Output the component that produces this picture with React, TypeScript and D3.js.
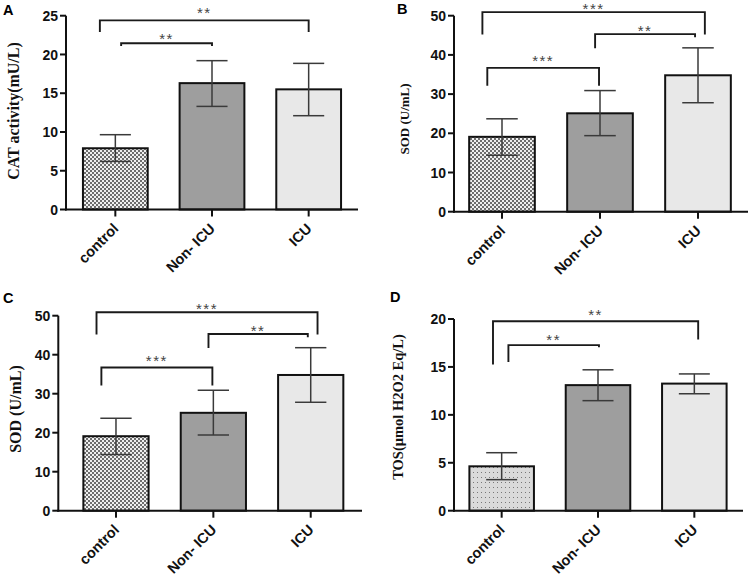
import React from 'react';
import * as d3 from 'd3';

const categories = ['control', 'Non- ICU', 'ICU'];

const catMean = [7.9, 16.3, 15.5];
const catErrHigh = [9.65, 19.2, 18.85];
const catErrLow = [6.2, 13.3, 12.1];
const catTicks = [0, 5, 10, 15, 20, 25];

const sodMean = [19.1, 25.1, 34.8];
const sodErrHigh = [23.7, 30.9, 41.8];
const sodErrLow = [14.4, 19.4, 27.8];
const sodTicks = [0, 10, 20, 30, 40, 50];

const tosMean = [4.63, 13.1, 13.26];
const tosErrHigh = [6.05, 14.7, 14.27];
const tosErrLow = [3.24, 11.48, 12.2];
const tosTicks = [0, 5, 10, 15, 20];

// significance brackets: positions in category units, heights in data units
const catBrackets = [
  { from: -0.16, to: 2.0, level: 24.4, leftEnd: 22.9, rightEnd: 22.9, labelAt: 25.8, label: '**' },
  { from: 0.06, to: 1.0, level: 21.45, leftEnd: 21.1, rightEnd: 21.1, labelAt: 22.5, label: '**' },
];
const sodBrackets = [
  { from: -0.2, to: 2.07, level: 50.9, leftEnd: 45.2, rightEnd: 45.2, labelAt: 52.6, label: '***' },
  { from: 0.95, to: 1.97, level: 45.3, leftEnd: 41.7, rightEnd: 44.5, labelAt: 46.9, label: '**' },
  { from: -0.15, to: 0.99, level: 36.7, leftEnd: 32.1, rightEnd: 32.1, labelAt: 39.4, label: '***' },
];
const tosBrackets = [
  { from: -0.09, to: 2.04, level: 19.77, leftEnd: 15.24, rightEnd: 17.85, labelAt: 20.74, label: '**' },
  { from: 0.07, to: 1.01, level: 17.27, leftEnd: 15.52, rightEnd: 17.06, labelAt: 18.2, label: '**' },
];

const fills = ['url(#checker)', '#9e9e9e', '#e8e8e8'];
const fillsD = ['url(#dots)', '#9e9e9e', '#e8e8e8'];

type Panel = {
  letter: string;
  lx: number; ly: number;
  axisX0: number; axisX1: number;
  bandX0: number; bandX1: number;
  yBottom: number; yTop: number;
  ticks: number[];
  mean: number[]; hi: number[]; lo: number[];
  brackets: typeof catBrackets;
  ylabel: string; ylx: number; yly: number; ylSize: number;
  fills: string[];
};

const panels: Panel[] = [
  {
    letter: 'A', lx: 3, ly: 15,
    axisX0: 66, axisX1: 358, bandX0: 67, bandX1: 357,
    yBottom: 209.5, yTop: 15.7, ticks: catTicks,
    mean: catMean, hi: catErrHigh, lo: catErrLow, brackets: catBrackets,
    ylabel: 'CAT activity(mU/L)', ylx: 13, yly: 111, ylSize: 16, fills,
  },
  {
    letter: 'B', lx: 397, ly: 14,
    axisX0: 454, axisX1: 748, bandX0: 453, bandX1: 747,
    yBottom: 211.7, yTop: 15.7, ticks: sodTicks,
    mean: sodMean, hi: sodErrHigh, lo: sodErrLow, brackets: sodBrackets,
    ylabel: 'SOD (U/mL)', ylx: 404, yly: 119, ylSize: 13, fills,
  },
  {
    letter: 'C', lx: 3, ly: 303,
    axisX0: 58.3, axisX1: 362, bandX0: 67.3, bandX1: 359.4,
    yBottom: 510.7, yTop: 315.7, ticks: sodTicks,
    mean: sodMean, hi: sodErrHigh, lo: sodErrLow, brackets: sodBrackets,
    ylabel: 'SOD (U/mL)', ylx: 15, yly: 409, ylSize: 16, fills,
  },
  {
    letter: 'D', lx: 390, ly: 302,
    axisX0: 454, axisX1: 743, bandX0: 453.5, bandX1: 742.5,
    yBottom: 510.7, yTop: 319, ticks: tosTicks,
    mean: tosMean, hi: tosErrHigh, lo: tosErrLow, brackets: tosBrackets,
    ylabel: 'TOS(\u03bcmol H2O2 Eq/L)', ylx: 398, yly: 407, ylSize: 14.5, fills: fillsD,
  },
];

const sans = '"Liberation Sans", Arial, Helvetica, sans-serif';
const serif = '"Liberation Serif", "Times New Roman", serif';

function PanelView({ p }: { p: Panel }) {
  const x = d3.scalePoint<string>().domain(categories).range([p.bandX0, p.bandX1]).padding(0.5);
  const step = x.step();
  const bw = step * 0.67;
  const cap = bw * 0.48;
  const maxTick = p.ticks[p.ticks.length - 1];
  const y = d3.scaleLinear().domain([0, maxTick]).range([p.yBottom, p.yTop]);
  const bx = d3.scaleLinear().domain([0, 2]).range([x(categories[0])!, x(categories[2])!]);
  return (
    <g>
      <text x={p.lx} y={p.ly} fontFamily={sans} fontWeight="bold" fontSize={14.5} fill="#000">{p.letter}</text>
      <text
        transform={`translate(${p.ylx},${p.yly}) rotate(-90)`}
        textAnchor="middle" dy="0.35em"
        fontFamily={serif} fontWeight="bold" fontSize={p.ylSize} fill="#111"
      >{p.ylabel}</text>
      {categories.map((c, i) => (
        <rect key={c} x={x(c)! - bw / 2} y={y(p.mean[i])} width={bw} height={y(0) - y(p.mean[i])}
          fill={p.fills[i]} stroke="#111" strokeWidth={2} />
      ))}
      {categories.map((c, i) => {
        const cx = x(c)!;
        return (
          <g key={c} stroke="#3a3a3a" strokeWidth={1.5}>
            <line x1={cx} x2={cx} y1={y(p.hi[i])} y2={y(p.lo[i])} />
            <line x1={cx - cap / 2} x2={cx + cap / 2} y1={y(p.hi[i])} y2={y(p.hi[i])} />
            <line x1={cx - cap / 2} x2={cx + cap / 2} y1={y(p.lo[i])} y2={y(p.lo[i])} />
          </g>
        );
      })}
      {/* y axis */}
      <line x1={p.axisX0} x2={p.axisX0} y1={y(0) + 1} y2={y(maxTick)} stroke="#111" strokeWidth={2} />
      {p.ticks.map((t) => (
        <g key={t}>
          <line x1={p.axisX0 - 6} x2={p.axisX0} y1={y(t)} y2={y(t)} stroke="#111" strokeWidth={2} />
          <text x={p.axisX0 - 8} y={y(t)} dy="0.36em" textAnchor="end" fontFamily={sans}
            fontWeight="bold" fontSize={14} fill="#111">{t}</text>
        </g>
      ))}
      {/* x axis */}
      <line x1={p.axisX0 - 1} x2={p.axisX1} y1={y(0)} y2={y(0)} stroke="#111" strokeWidth={2} />
      {categories.map((c) => (
        <g key={c}>
          <line x1={x(c)!} x2={x(c)!} y1={y(0)} y2={y(0) + 7} stroke="#111" strokeWidth={2} />
          <text transform={`translate(${x(c)! + 4},${y(0) + 20}) rotate(-45)`} textAnchor="end"
            fontFamily={sans} fontWeight="bold" fontSize={14.5} fill="#111">{c}</text>
        </g>
      ))}
      {/* significance brackets */}
      {p.brackets.map((b, i) => (
        <g key={i}>
          <path d={`M${bx(b.from)},${y(b.leftEnd)}V${y(b.level)}H${bx(b.to)}V${y(b.rightEnd)}`}
            fill="none" stroke="#1a1a1a" strokeWidth={1.9} />
          <text x={(bx(b.from) + bx(b.to)) / 2} y={y(b.labelAt) + 8.5} textAnchor="middle"
            fontFamily={sans} fontSize={15} fill="#444" letterSpacing={1.5}>{b.label}</text>
        </g>
      ))}
    </g>
  );
}

export default function App() {
  return (
    <svg width={750} height={577} style={{ position: 'absolute', left: 0, top: 0, background: '#fff' }}>
      <defs>
        <pattern id="checker" width={4} height={4} patternUnits="userSpaceOnUse">
          <rect width={4} height={4} fill="#f0f0f0" />
          <rect width={2} height={2} fill="#6e6e6e" />
          <rect x={2} y={2} width={2} height={2} fill="#6e6e6e" />
        </pattern>
        <pattern id="dots" width={4} height={5} patternUnits="userSpaceOnUse">
          <rect width={4} height={5} fill="#dadada" />
          <rect x={1} y={2} width={1} height={1} fill="#777" />
        </pattern>
      </defs>
      <rect width={750} height={577} fill="#fff" />
      {panels.map((p) => <PanelView key={p.letter} p={p} />)}
    </svg>
  );
}
